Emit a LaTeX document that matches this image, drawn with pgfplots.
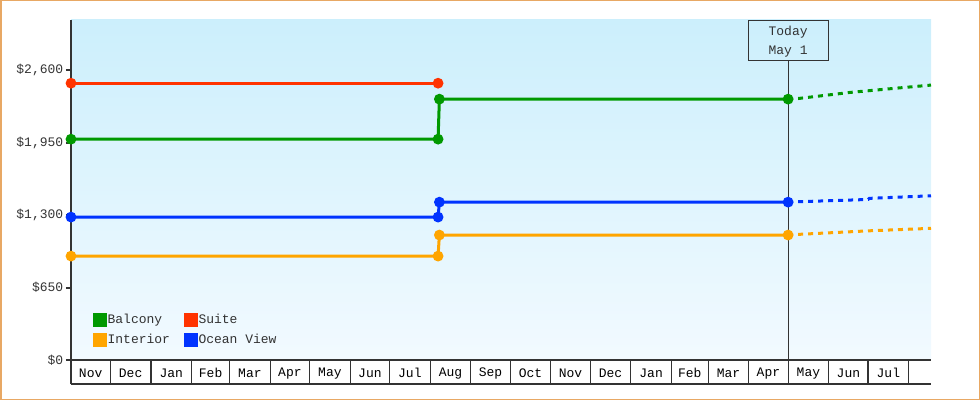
\documentclass[border=0pt]{standalone}
\usepackage{fontspec}
\setmainfont{Liberation Mono}
\usepackage{pgfplots}
\pgfplotsset{compat=1.18}
\definecolor{cgreen}{HTML}{009900}
\definecolor{cred}{HTML}{FF3300}
\definecolor{corange}{HTML}{FFA500}
\definecolor{cblue}{HTML}{0033FF}
\definecolor{cdark}{HTML}{333333}
\definecolor{cframe}{HTML}{E8A864}
\definecolor{bgtop}{HTML}{CCEFFC}
\definecolor{bgbot}{HTML}{F2FAFF}
\begin{document}
\begin{tikzpicture}
\path[use as bounding box] (0,0) rectangle (980bp,400bp);
\begin{axis}[
  at={(71bp,40bp)}, anchor=south west,
  scale only axis, width=860bp, height=340bp,
  xmin=0, xmax=656, ymin=0, ymax=3050,
  clip=false,
  axis x line*=bottom, axis y line*=left,
  x axis line style={-, draw=cdark, line width=1.2bp},
  y axis line style={-, draw=cdark, line width=2bp},
  axis background/.style={top color=bgtop, bottom color=bgbot},
  tick align=outside,
  ytick={0,650,1300,1950,2600},
  yticklabels={{\$0},{\$650},{\$1,300},{\$1,950},{\$2,600}},
  ytick style={draw=cdark, line width=2bp, /pgfplots/major tick length=5bp},
  xtick={0,30,61,92,121,152,182,213,243,274,305,335,366,396,427,458,486,517,547,578,608,639},
  xticklabels={Nov,Dec,Jan,Feb,Mar,Apr,May,Jun,Jul,Aug,Sep,Oct,Nov,Dec,Jan,Feb,Mar,Apr,May,Jun,Jul},
  x tick label as interval,
  xtick style={draw=cdark, line width=1.2bp, /pgfplots/major tick length=24bp},
  ticklabel style={font=\fontsize{13bp}{15bp}\selectfont, text=cdark},
  xticklabel style={anchor=center, yshift=-9bp, text=black},
  legend columns=2,
  legend cell align=left,
  legend image code/.code={\fill[#1] (0bp,-5.5bp) rectangle (10.5bp,5.5bp);},
  legend style={at={(0.022,0.033)}, anchor=south west, draw=none, fill=none,
    font=\fontsize{13bp}{15bp}\selectfont, text=cdark,
    nodes={inner sep=1bp},
    /tikz/every even column/.append style={column sep=13bp},
    row sep=6bp},
]
\addplot[cdark, line width=0.8bp, forget plot] coordinates {(547,0) (547,2690)};
\node[draw=cdark, line width=0.8bp, minimum width=80bp, minimum height=40bp, anchor=north, inner sep=0pt] at (axis cs:547,3050) {};
\node[align=center, inner sep=0pt, text=cdark, font=\fontsize{13bp}{19bp}\selectfont, anchor=center, yshift=-22bp] at (axis cs:547,3050) {Today\\May 1};
\draw[cdark, line width=1.2bp] ([yshift=-24bp]rel axis cs:0,0) -- ([yshift=-24bp]rel axis cs:1,0);

\addplot[cgreen, line width=3bp, mark=*, mark size=3.8bp] coordinates {(0,1981) (280,1981) (281,2340) (547,2340)};
\addlegendentry{Balcony}
\addplot[cred, line width=3bp, mark=*, mark size=3.8bp] coordinates {(0,2483) (280,2483)};
\addlegendentry{Suite}
\addplot[corange, line width=3bp, mark=*, mark size=3.8bp] coordinates {(0,932) (280,932) (281,1121) (547,1121)};
\addlegendentry{Interior}
\addplot[cblue, line width=3bp, mark=*, mark size=3.8bp] coordinates {(0,1282) (280,1282) (281,1416) (547,1416)};
\addlegendentry{Ocean View}

\addplot[cgreen, line width=3bp, dash pattern=on 5bp off 5bp, forget plot] coordinates {(547,2340) (555,2346) (594,2400) (632,2441) (656,2466)};
\addplot[corange, line width=3bp, dash pattern=on 5bp off 5bp, forget plot] coordinates {(547,1121) (555,1127) (609,1159) (656,1181)};
\addplot[cblue, line width=3bp, dash pattern=on 5bp off 5bp, forget plot] coordinates {(547,1416) (555,1420) (608,1440) (609,1450) (656,1473)};
\end{axis}
\draw[cframe, line width=1.5bp] (0.75bp,0.75bp) rectangle (979.25bp,399.25bp);
\end{tikzpicture}
\end{document}
